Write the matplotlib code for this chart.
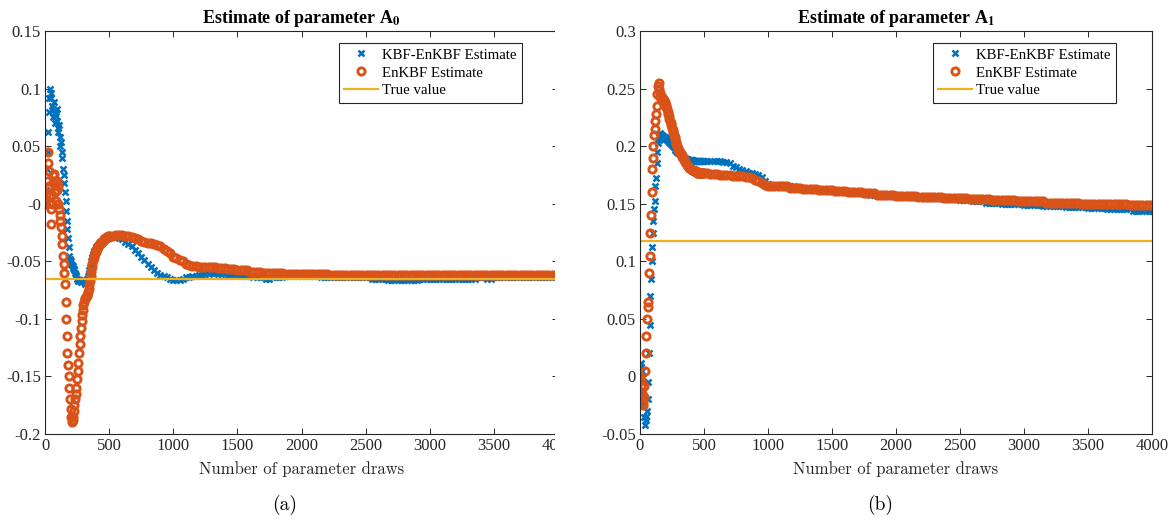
import numpy as np
import matplotlib.pyplot as plt
from matplotlib.patches import Rectangle

plt.rcParams['font.family'] = ['Liberation Serif', 'DejaVu Serif']
plt.rcParams['mathtext.fontset'] = 'stix'

# parameter draws: every 5 up to 500, then every 25
draws_early = np.arange(0, 501, 5)
draws_late = np.arange(525, 4001, 25)

a0_kbf_early = [0.000, 0.004, 0.012, 0.030, 0.045, 0.062, 0.080, 0.092, 0.100, 0.096,
                0.092, 0.085, 0.075, 0.082, 0.088, 0.078, 0.070, 0.076, 0.082, 0.072,
                0.062, 0.066, 0.068, 0.058, 0.050, 0.054, 0.045, 0.040, 0.030, 0.025,
                0.018, 0.010, 0.002, -0.006, -0.015, -0.022, -0.030, -0.038, -0.045, -0.048,
                -0.050, -0.052, -0.053, -0.054, -0.056, -0.057, -0.058, -0.060, -0.062, -0.063,
                -0.065, -0.066, -0.067, -0.066, -0.066, -0.067, -0.068, -0.067, -0.067, -0.066,
                -0.066, -0.068, -0.070, -0.069, -0.068, -0.067, -0.065, -0.063, -0.060, -0.058,
                -0.055, -0.053, -0.050, -0.048, -0.046, -0.044, -0.042, -0.041, -0.040, -0.039,
                -0.038, -0.037, -0.036, -0.036, -0.035, -0.034, -0.034, -0.033, -0.033, -0.032,
                -0.032, -0.031, -0.031, -0.031, -0.031, -0.030, -0.030, -0.030, -0.030, -0.030,
                -0.030]
a0_kbf_late = [-0.029, -0.029, -0.030, -0.031, -0.033, -0.035, -0.037, -0.040, -0.043, -0.046,
               -0.049, -0.052, -0.055, -0.058, -0.060, -0.062, -0.063, -0.064, -0.065, -0.066,
               -0.066, -0.066, -0.065, -0.064, -0.064, -0.063, -0.063, -0.062, -0.062, -0.061,
               -0.061, -0.060, -0.060, -0.061, -0.061, -0.061, -0.062, -0.062, -0.062, -0.062,
               -0.063, -0.063, -0.063, -0.063, -0.064, -0.064, -0.064, -0.064, -0.065, -0.065,
               -0.064, -0.064, -0.064, -0.064, -0.063, -0.063, -0.063, -0.063, -0.063, -0.063,
               -0.063, -0.063, -0.063, -0.063, -0.063, -0.064, -0.064, -0.064, -0.064, -0.064,
               -0.064, -0.064, -0.064, -0.064, -0.064, -0.064, -0.064, -0.064, -0.064, -0.064,
               -0.064, -0.065, -0.065, -0.065, -0.065, -0.065, -0.066, -0.066, -0.066, -0.066,
               -0.066, -0.066, -0.066, -0.066, -0.066, -0.066, -0.065, -0.065, -0.065, -0.065,
               -0.065, -0.065, -0.065, -0.065, -0.065, -0.065, -0.065, -0.065, -0.065, -0.065,
               -0.065, -0.065, -0.065, -0.065, -0.064, -0.064, -0.064, -0.065, -0.065, -0.064,
               -0.064, -0.064, -0.064, -0.064, -0.064, -0.064, -0.064, -0.064, -0.064, -0.064,
               -0.064, -0.064, -0.064, -0.064, -0.064, -0.064, -0.064, -0.064, -0.064, -0.064]

a0_enkbf_early = [0.000, 0.002, 0.008, 0.020, 0.045, 0.035, 0.028, 0.015, 0.008, -0.005,
                  -0.018, 0.000, 0.018, 0.025, 0.026, 0.020, 0.010, 0.002, 0.012, 0.020,
                  0.015, 0.000, -0.005, -0.010, -0.015, -0.020, -0.028, -0.035, -0.045, -0.052,
                  -0.060, -0.070, -0.085, -0.100, -0.115, -0.130, -0.140, -0.150, -0.160, -0.170,
                  -0.178, -0.185, -0.190, -0.188, -0.185, -0.180, -0.175, -0.170, -0.165, -0.160,
                  -0.152, -0.145, -0.138, -0.130, -0.122, -0.115, -0.108, -0.102, -0.097, -0.092,
                  -0.088, -0.085, -0.083, -0.082, -0.081, -0.080, -0.079, -0.077, -0.074, -0.071,
                  -0.067, -0.063, -0.059, -0.055, -0.052, -0.049, -0.047, -0.045, -0.043, -0.042,
                  -0.040, -0.039, -0.038, -0.037, -0.036, -0.035, -0.034, -0.034, -0.033, -0.033,
                  -0.032, -0.032, -0.031, -0.031, -0.030, -0.030, -0.029, -0.029, -0.029, -0.028,
                  -0.028]
a0_enkbf_late = [-0.028, -0.027, -0.027, -0.027, -0.028, -0.028, -0.029, -0.030, -0.031, -0.032,
                 -0.033, -0.034, -0.034, -0.035, -0.036, -0.037, -0.039, -0.041, -0.043, -0.046,
                 -0.047, -0.049, -0.050, -0.052, -0.053, -0.054, -0.054, -0.055, -0.055, -0.055,
                 -0.055, -0.055, -0.055, -0.056, -0.056, -0.056, -0.057, -0.057, -0.057, -0.058,
                 -0.058, -0.058, -0.058, -0.059, -0.059, -0.059, -0.059, -0.060, -0.060, -0.060,
                 -0.060, -0.060, -0.060, -0.060, -0.061, -0.061, -0.061, -0.061, -0.061, -0.061,
                 -0.061, -0.061, -0.061, -0.061, -0.061, -0.061, -0.061, -0.061, -0.062, -0.062,
                 -0.062, -0.062, -0.062, -0.062, -0.062, -0.062, -0.062, -0.062, -0.062, -0.062,
                 -0.062, -0.062, -0.062, -0.062, -0.062, -0.062, -0.062, -0.062, -0.062, -0.062,
                 -0.062, -0.062, -0.062, -0.062, -0.062, -0.062, -0.062, -0.062, -0.062, -0.062,
                 -0.062, -0.062, -0.062, -0.062, -0.062, -0.062, -0.062, -0.062, -0.062, -0.062,
                 -0.062, -0.062, -0.062, -0.062, -0.062, -0.062, -0.062, -0.062, -0.062, -0.062,
                 -0.062, -0.062, -0.062, -0.062, -0.062, -0.062, -0.062, -0.062, -0.062, -0.062,
                 -0.062, -0.062, -0.062, -0.062, -0.062, -0.062, -0.062, -0.062, -0.062, -0.062]

a1_kbf_early = [0.000, 0.008, 0.012, 0.005, -0.005, -0.015, -0.025, -0.035, -0.042, -0.038,
                -0.035, -0.030, -0.020, -0.005, 0.020, 0.045, 0.070, 0.085, 0.100, 0.112,
                0.125, 0.135, 0.145, 0.152, 0.165, 0.172, 0.185, 0.195, 0.203, 0.208,
                0.205, 0.209, 0.211, 0.210, 0.208, 0.210, 0.209, 0.207, 0.206, 0.208,
                0.207, 0.206, 0.205, 0.205, 0.205, 0.204, 0.204, 0.203, 0.203, 0.202,
                0.201, 0.201, 0.200, 0.199, 0.198, 0.197, 0.197, 0.196, 0.195, 0.195,
                0.194, 0.194, 0.193, 0.193, 0.192, 0.192, 0.191, 0.191, 0.190, 0.190,
                0.190, 0.189, 0.189, 0.189, 0.189, 0.188, 0.188, 0.188, 0.188, 0.188,
                0.188, 0.188, 0.188, 0.188, 0.187, 0.187, 0.187, 0.187, 0.187, 0.187,
                0.187, 0.187, 0.187, 0.187, 0.187, 0.187, 0.187, 0.187, 0.187, 0.187,
                0.187]
a1_kbf_late = [0.187, 0.187, 0.187, 0.187, 0.187, 0.186, 0.186, 0.185, 0.183, 0.182,
               0.180, 0.179, 0.178, 0.177, 0.177, 0.176, 0.175, 0.173, 0.170, 0.167,
               0.166, 0.166, 0.166, 0.166, 0.165, 0.165, 0.165, 0.165, 0.164, 0.164,
               0.164, 0.163, 0.163, 0.163, 0.163, 0.162, 0.162, 0.162, 0.162, 0.161,
               0.161, 0.161, 0.161, 0.160, 0.160, 0.160, 0.160, 0.159, 0.159, 0.159,
               0.159, 0.158, 0.158, 0.158, 0.158, 0.157, 0.157, 0.157, 0.157, 0.157,
               0.157, 0.157, 0.156, 0.156, 0.156, 0.156, 0.156, 0.156, 0.155, 0.155,
               0.155, 0.155, 0.155, 0.155, 0.154, 0.154, 0.154, 0.154, 0.154, 0.153,
               0.153, 0.153, 0.153, 0.152, 0.152, 0.152, 0.152, 0.151, 0.151, 0.151,
               0.151, 0.151, 0.150, 0.150, 0.150, 0.150, 0.150, 0.150, 0.150, 0.149,
               0.149, 0.149, 0.149, 0.149, 0.149, 0.148, 0.148, 0.148, 0.148, 0.148,
               0.148, 0.148, 0.147, 0.147, 0.147, 0.147, 0.147, 0.147, 0.147, 0.146,
               0.146, 0.146, 0.146, 0.146, 0.146, 0.145, 0.145, 0.145, 0.145, 0.145,
               0.145, 0.145, 0.145, 0.144, 0.144, 0.144, 0.144, 0.144, 0.144, 0.144]

a1_enkbf_early = [0.000, -0.003, -0.008, -0.015, -0.022, -0.025, -0.018, -0.008, 0.005, 0.020,
                  0.035, 0.050, 0.060, 0.065, 0.090, 0.105, 0.125, 0.140, 0.160, 0.180,
                  0.190, 0.200, 0.210, 0.215, 0.222, 0.228, 0.235, 0.245, 0.252, 0.255,
                  0.250, 0.246, 0.243, 0.242, 0.243, 0.242, 0.241, 0.240, 0.239, 0.238,
                  0.236, 0.234, 0.232, 0.230, 0.228, 0.226, 0.224, 0.222, 0.220, 0.218,
                  0.216, 0.214, 0.212, 0.210, 0.208, 0.206, 0.204, 0.202, 0.200, 0.198,
                  0.197, 0.196, 0.195, 0.194, 0.193, 0.192, 0.191, 0.190, 0.189, 0.188,
                  0.187, 0.186, 0.185, 0.184, 0.184, 0.183, 0.182, 0.181, 0.181, 0.180,
                  0.180, 0.179, 0.179, 0.179, 0.178, 0.178, 0.178, 0.178, 0.178, 0.177,
                  0.177, 0.177, 0.177, 0.177, 0.177, 0.177, 0.177, 0.177, 0.177, 0.177,
                  0.177]
a1_enkbf_late = [0.177, 0.176, 0.176, 0.176, 0.175, 0.175, 0.175, 0.175, 0.174, 0.174,
                 0.174, 0.174, 0.173, 0.173, 0.172, 0.171, 0.170, 0.168, 0.166, 0.165,
                 0.165, 0.165, 0.165, 0.165, 0.165, 0.165, 0.164, 0.164, 0.164, 0.164,
                 0.163, 0.163, 0.163, 0.163, 0.163, 0.162, 0.162, 0.162, 0.162, 0.162,
                 0.161, 0.161, 0.161, 0.161, 0.160, 0.160, 0.160, 0.160, 0.160, 0.159,
                 0.159, 0.159, 0.159, 0.158, 0.158, 0.158, 0.158, 0.158, 0.158, 0.157,
                 0.157, 0.157, 0.157, 0.157, 0.157, 0.157, 0.156, 0.156, 0.156, 0.156,
                 0.156, 0.156, 0.156, 0.156, 0.155, 0.155, 0.155, 0.155, 0.155, 0.155,
                 0.155, 0.155, 0.154, 0.154, 0.154, 0.154, 0.154, 0.154, 0.154, 0.153,
                 0.153, 0.153, 0.153, 0.153, 0.153, 0.153, 0.153, 0.152, 0.152, 0.152,
                 0.152, 0.152, 0.152, 0.152, 0.152, 0.152, 0.151, 0.151, 0.151, 0.151,
                 0.151, 0.151, 0.151, 0.151, 0.151, 0.151, 0.151, 0.150, 0.150, 0.150,
                 0.150, 0.150, 0.150, 0.150, 0.150, 0.150, 0.150, 0.150, 0.150, 0.150,
                 0.150, 0.150, 0.149, 0.149, 0.149, 0.149, 0.149, 0.149, 0.149, 0.149]

true_a0 = -0.065
true_a1 = 0.118

titles = ['Estimate of parameter A$_{\\mathbf{0}}$', 'Estimate of parameter A$_{\\mathbf{1}}$']
ylims = [(-0.2, 0.15), (-0.05, 0.3)]
sub_labels = ['(a)', '(b)']

blue = '#0072BD'
orange = '#D95319'
yellow = '#EDB120'
gray = '#262626'

W, H = 1174, 522
fig = plt.figure(figsize=(W / 100, H / 100), dpi=100)
ax_left = fig.add_axes([45 / W, 88 / H, 513 / W, 403 / H])
ax_right = fig.add_axes([640 / W, 88 / H, 512 / W, 403 / H])

draws = np.concatenate([draws_early, draws_late])
kbf = [np.concatenate([a0_kbf_early, a0_kbf_late]), np.concatenate([a1_kbf_early, a1_kbf_late])]
enkbf = [np.concatenate([a0_enkbf_early, a0_enkbf_late]), np.concatenate([a1_enkbf_early, a1_enkbf_late])]
truth = [true_a0, true_a1]

for i, ax in enumerate([ax_left, ax_right]):
    ax.plot(draws, kbf[i], 'x', color=blue, ms=4.5, mew=1.8, label='KBF-EnKBF Estimate')
    ax.plot(draws, enkbf[i], 'o', color=orange, mfc='none', ms=5.2, mew=2.1, label='EnKBF Estimate')
    ax.plot([0, 4000], [truth[i], truth[i]], '-', color=yellow, lw=1.6, label='True value')
    ax.set_xlim(0, 4000)
    ax.set_ylim(*ylims[i])
    ax.set_xticks(np.arange(0, 4001, 500))
    ax.set_yticks(np.arange(ylims[i][0], ylims[i][1] + 0.001, 0.05))
    ax.set_yticklabels(['%g' % round(v, 2) for v in ax.get_yticks()])
    ax.tick_params(direction='in', length=4, width=0.7, top=True, right=True,
                   labelsize=12, colors=gray, labelcolor=gray, pad=3)
    for s in ax.spines.values():
        s.set_color(gray)
        s.set_linewidth(0.8)
    ax.set_title(titles[i], fontsize=13, fontweight='bold', pad=6)
    ax.set_xlabel('Number of parameter draws', family='cmr10', fontsize=12, color=gray, labelpad=5)
    leg = ax.legend(loc='upper right', bbox_to_anchor=(0.93, 0.97), fontsize=10.7,
                    fancybox=False, framealpha=1, edgecolor=gray, handlelength=2.3,
                    labelspacing=0.3, borderpad=0.35, handletextpad=0.3, borderaxespad=0)
    leg.get_frame().set_linewidth(0.8)

fig.text(285 / W, 1 - 505 / H, sub_labels[0], family='cmr10', fontsize=14, ha='center', va='center')
fig.text(880 / W, 1 - 505 / H, sub_labels[1], family='cmr10', fontsize=14, ha='center', va='center')

# the left panel is cut off at its right edge in the reference
fig.add_artist(Rectangle((554.5 / W, 0), 43 / W, 1, transform=fig.transFigure,
                         facecolor='white', edgecolor='none', zorder=10))

fig.savefig('out.png', dpi=100)
